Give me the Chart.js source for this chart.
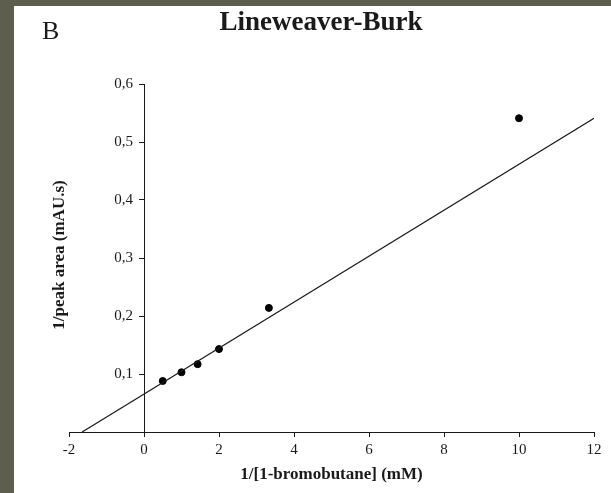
<!DOCTYPE html>
<html>
<head>
<meta charset="utf-8">
<script src="https://cdn.jsdelivr.net/npm/chart.js@4.4.0/dist/chart.umd.min.js"></script>
<style>
  html, body { margin: 0; padding: 0; }
  body { background: #5d5e4d; width: 611px; height: 493px; overflow: hidden; }
  #sheet { position: absolute; left: 14px; top: 6px; width: 597px; height: 487px; background: #fff; }
</style>
</head>
<body>
<div id="sheet">
  <canvas id="lb" width="597" height="487"></canvas>
</div>
<script>
// measured points (1/[S], 1/peak area)
const invConc = [0.5, 1.0, 1.43, 2.0, 3.33, 10.0];
const invArea = [0.088, 0.103, 0.117, 0.143, 0.214, 0.541];

// regression line, end points
const fitX = [-1.65, 12];
const fitY = [0, 0.541];

const xTicks = [-2, 0, 2, 4, 6, 8, 10, 12];
const yTicks = [0.1, 0.2, 0.3, 0.4, 0.5, 0.6];

const serif = "'Liberation Serif', 'Times New Roman', serif";
const ink = '#1a1a1a';

// y axis sits at x=0; chart.js puts its labels right on the axis line,
// so push them left past the tick marks
const yLabelShift = {
  id: 'yLabelShift',
  beforeDraw(chart) {
    const s = chart.scales.y;
    s.getLabelItems(chart.chartArea).forEach(item => {
      item.options.translation[0] -= 11;
    });
  }
};

// texts the scales don't handle: panel letter, title, y axis label
const textLayer = {
  id: 'textLayer',
  afterDraw(chart) {
    const c = chart.ctx;
    c.save();
    c.fillStyle = ink;
    c.textBaseline = 'alphabetic';

    c.font = '26px ' + serif;
    c.textAlign = 'left';
    c.fillText('B', 28, 33);

    c.font = 'bold 27px ' + serif;
    c.textAlign = 'center';
    c.fillText('Lineweaver-Burk', 307, 24);

    c.translate(46, 249);
    c.rotate(-Math.PI / 2);
    c.font = 'bold 17px ' + serif;
    c.textBaseline = 'middle';
    c.fillText('1/peak area (mAU.s)', 0, 0);
    c.restore();
  }
};

const chart = new Chart(document.getElementById('lb'), {
  type: 'scatter',
  data: {
    datasets: [
      {
        type: 'line',
        data: fitX.map((x, i) => ({ x: x, y: fitY[i] })),
        borderColor: ink,
        borderWidth: 1.2,
        pointRadius: 0,
        fill: false
      },
      {
        data: invConc.map((x, i) => ({ x: x, y: invArea[i] })),
        backgroundColor: '#000',
        borderColor: '#000',
        pointRadius: 3.5
      }
    ]
  },
  options: {
    responsive: false,
    animation: false,
    devicePixelRatio: 1,
    layout: { padding: { left: 55, right: 17, top: 78, bottom: 0 } },
    plugins: {
      legend: { display: false },
      tooltip: { enabled: false }
    },
    scales: {
      x: {
        type: 'linear',
        position: 'bottom',
        min: -2,
        max: 12,
        afterBuildTicks: s => { s.ticks = xTicks.map(v => ({ value: v })); },
        afterFit: s => { s.height = 61; },
        grid: { drawOnChartArea: false, drawTicks: true, tickLength: 5, color: ink },
        border: { display: true, color: ink, width: 1 },
        ticks: {
          color: ink,
          padding: 4,
          font: { family: serif, size: 15 },
          callback: v => String(v)
        },
        title: {
          display: true,
          text: '1/[1-bromobutane] (mM)',
          color: ink,
          font: { family: serif, size: 17, weight: 'bold' },
          padding: { top: 0, bottom: 8 }
        }
      },
      y: {
        type: 'linear',
        axis: 'y',
        position: { x: 0 },
        min: 0,
        max: 0.6,
        afterBuildTicks: s => { s.ticks = yTicks.map(v => ({ value: v })); },
        grid: { drawOnChartArea: false, drawTicks: true, tickLength: 5, color: ink },
        border: { display: true, color: ink, width: 1 },
        ticks: {
          color: ink,
          padding: 6,
          font: { family: serif, size: 15 },
          callback: v => v.toFixed(1).replace('.', ',')
        }
      }
    }
  },
  plugins: [yLabelShift, textLayer]
});
</script>
</body>
</html>
